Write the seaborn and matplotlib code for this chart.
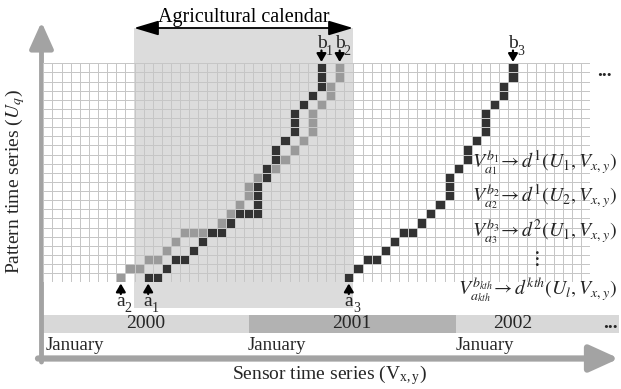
import numpy as np
import matplotlib
matplotlib.use('Agg')
import matplotlib.pyplot as plt
import seaborn as sns
from matplotlib.colors import ListedColormap
from matplotlib.patches import Rectangle

# ---------------- data ----------------
N_COLS = 60
N_ROWS = 24
# number of grid cells in each row, bottom row first
row_lengths = [42] * 5 + [45] * 2 + [47] * 7 + [51] * 1 + [56] * 3 + [60] * 6
# warping paths: columns occupied in each row (bottom row first)
path1_cols = [[11, 12], [13], [14, 15], [16], [17], [18, 19], [20], [21, 22, 23],
              [23], [23], [23], [24], [24], [25], [25], [26], [27], [27], [27],
              [28], [29], [30], [30], [30]]
path2_cols = [[8], [9, 10], [11, 12], [13], [14], [15, 16, 17], [19], [20], [21],
              [22], [22], [23], [25], [26], [27], [28], [29], [29], [29], [30],
              [31], [31], [32], [32]]
path3_cols = [[33], [34], [35, 36], [37], [38], [39, 40], [41], [42], [43], [44],
              [44], [44], [45], [46], [46], [47], [48], [48], [48], [49], [50],
              [50], [51], [51]]
start_labels = ['a_1', 'a_2', 'a_3']
start_cols = [11, 8, 33]
end_labels = ['b_1', 'b_2', 'b_3']
end_cols = [30, 32, 51]
years = ['2000', '2001', '2002']
month_labels = ['January', 'January', 'January']
formulas = [r'$V_{a_1}^{b_1}\!\rightarrow d^{1}(U_1, V_{x,y})$',
            r'$V_{a_2}^{b_2}\!\rightarrow d^{1}(U_2, V_{x,y})$',
            r'$V_{a_3}^{b_3}\!\rightarrow d^{2}(U_1, V_{x,y})$',
            r'$V_{a_{kth}}^{b_{kth}}\!\rightarrow d^{kth}(U_l, V_{x,y})$']

# ---------------- style ----------------
sns.set_theme(style='white')
plt.rcParams['font.family'] = ['Liberation Serif', 'DejaVu Serif']
plt.rcParams['mathtext.fontset'] = 'stix'

W, H = 621, 389
fig = plt.figure(figsize=(W / 100, H / 100), dpi=100)
fig.patch.set_facecolor('white')

# background axes in pixel units
bg = fig.add_axes([0, 0, 1, 1])
bg.set_xlim(0, W)
bg.set_ylim(H, 0)
bg.axis('off')

GX0, GY0, CW, CH = 43.3, 63.3, 9.12, 9.125
GX1 = GX0 + N_COLS * CW
GY1 = GY0 + N_ROWS * CH

def col_center(c):
    return GX0 + (c + 0.5) * CW

# agricultural calendar shading
CAL_X0, CAL_X1 = 134, 353
bg.add_patch(Rectangle((CAL_X0, 28), CAL_X1 - CAL_X0, 308 - 28,
                       facecolor='#dcdcdc', edgecolor='none', zorder=0))

# year bar
year_edges = [43, 249, 456, 619]
year_colors = ['#d8d8d8', '#b2b2b2', '#d8d8d8']
for i, y in enumerate(years):
    x0, x1 = year_edges[i], year_edges[i + 1]
    bg.add_patch(Rectangle((x0, 315), x1 - x0, 18, facecolor=year_colors[i],
                           edgecolor='none', zorder=1))

# axis arrows
axis_color = '#a3a3a3'
bg.annotate('', xy=(41.5, 22), xytext=(41.5, 362),
            arrowprops=dict(arrowstyle='-|>,head_width=0.45,head_length=1.0',
                            lw=3.5, color=axis_color, shrinkA=0, shrinkB=0,
                            mutation_scale=16), zorder=3)
bg.annotate('', xy=(619, 358.5), xytext=(38, 358.5),
            arrowprops=dict(arrowstyle='-|>,head_width=0.5,head_length=1.1',
                            lw=4.5, color=axis_color, shrinkA=0, shrinkB=0,
                            mutation_scale=16), zorder=3)

# ---------------- grid (heatmap) ----------------
M = np.zeros((N_ROWS, N_COLS))
mask = np.ones((N_ROWS, N_COLS), dtype=bool)
for r in range(N_ROWS):
    i = N_ROWS - 1 - r
    mask[i, :row_lengths[r]] = False
    for c in path2_cols[r]:
        M[i, c] = 1
    for c in path1_cols[r]:
        M[i, c] = 2
    for c in path3_cols[r]:
        M[i, c] = 2

gax = fig.add_axes([GX0 / W, 1 - GY1 / H, (GX1 - GX0) / W, (GY1 - GY0) / H])
cmap = ListedColormap([(1, 1, 1, 0), '#9a9a9a', '#333333'])
sns.heatmap(M, mask=mask, cmap=cmap, vmin=-0.5, vmax=2.5, cbar=False,
            linewidths=0.6, linecolor='#c6c6c6', xticklabels=False,
            yticklabels=False, ax=gax)
gax.patch.set_alpha(0)
gax.axis('off')

# ---------------- foreground text ----------------
fg = fig.add_axes([0, 0, 1, 1])
fg.set_xlim(0, W)
fg.set_ylim(H, 0)
fg.axis('off')
fg.patch.set_alpha(0)

# calendar double arrow and title
fg.annotate('', xy=(CAL_X0, 28), xytext=(CAL_X1, 28),
            arrowprops=dict(arrowstyle='<|-|>,head_width=0.3,head_length=1.0',
                            lw=1.3, color='black', shrinkA=0, shrinkB=0,
                            mutation_scale=15))
fg.text((CAL_X0 + CAL_X1) / 2, 17, 'Agricultural calendar', ha='center',
        va='center', fontsize=14.5, color='black')

# end labels (b) with down arrows
for lab, c in zip(end_labels, end_cols):
    xc = col_center(c)
    fg.text(xc, 43.5, lab[0], ha='center', va='center', fontsize=14)
    fg.text(xc + 7.5, 51, lab[2], ha='center', va='center', fontsize=10)
    fg.annotate('', xy=(xc, 62), xytext=(xc, 50.5),
                arrowprops=dict(arrowstyle='-|>,head_width=0.35,head_length=0.6',
                                lw=1.6, color='black', shrinkA=0, shrinkB=0,
                                mutation_scale=8))

# start labels (a) with up arrows
for lab, c in zip(start_labels, start_cols):
    xc = col_center(c)
    fg.text(xc, 301, lab[0], ha='center', va='center', fontsize=14)
    fg.text(xc + 7.5, 308, lab[2], ha='center', va='center', fontsize=10)
    fg.annotate('', xy=(xc, 283.5), xytext=(xc, 294),
                arrowprops=dict(arrowstyle='-|>,head_width=0.35,head_length=0.6',
                                lw=1.6, color='black', shrinkA=0, shrinkB=0,
                                mutation_scale=8))

# year labels
year_label_x = [146, 352, 513]
for y, x in zip(years, year_label_x):
    fg.text(x, 324, y, ha='center', va='center', fontsize=14)
fg.text(610, 323, '...', ha='center', va='center', fontsize=14, fontweight='bold')
fg.text(604, 71, '...', ha='center', va='center', fontsize=14, fontweight='bold')

# month labels
month_x = [46, 248, 456]
for m, x in zip(month_labels, month_x):
    fg.text(x, 345, m, ha='left', va='center', fontsize=13.5)

# formulas
formula_y = [163, 197, 232, 290]
for f, y in zip(formulas, formula_y):
    fg.text(617, y, f, ha='right', va='center', fontsize=14.3)
fg.text(535, 259, r'$\vdots$', ha='center', va='center', fontsize=15,
        fontweight='bold')

# axis titles
fg.text(330, 375, r'Sensor time series (V$_{\mathregular{x,y}}$)', ha='center',
        va='center', fontsize=14)
fg.text(15, 182, r'Pattern time series ($U_q$)', ha='center', va='center',
        rotation=90, fontsize=14)

fig.savefig('out.png', dpi=100, facecolor='white')
